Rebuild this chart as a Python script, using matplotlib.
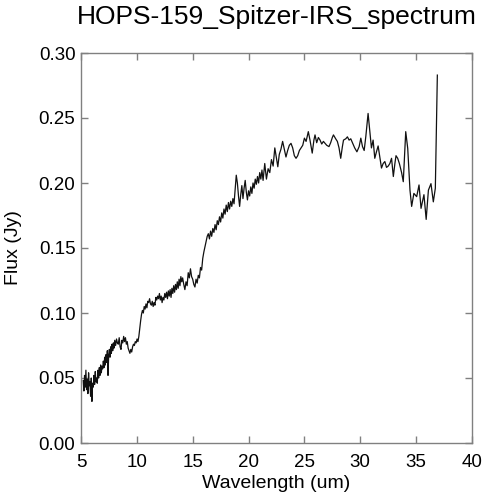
import matplotlib
matplotlib.use('Agg')
import matplotlib.pyplot as plt

plt.rcParams['font.family'] = ['Liberation Sans', 'DejaVu Sans']

title = 'HOPS-159_Spitzer-IRS_spectrum'

# short-wavelength part (SL module)
wave_sl = [5.20, 5.26, 5.32, 5.38, 5.44, 5.50, 5.56, 5.62, 5.68, 5.74,
           5.80, 5.86, 5.92, 5.98, 6.04, 6.10, 6.16, 6.22, 6.28, 6.34,
           6.40, 6.46, 6.52, 6.58, 6.64, 6.70, 6.76, 6.82, 6.88, 6.94,
           7.00, 7.06, 7.12, 7.18, 7.24, 7.30, 7.36, 7.42, 7.48, 7.54,
           7.60, 7.66, 7.72, 7.78, 7.84, 7.90, 7.96, 8.02, 8.10, 8.18,
           8.26, 8.34, 8.42, 8.50, 8.58, 8.66, 8.74, 8.82, 8.90, 8.98,
           9.06, 9.14, 9.22, 9.30, 9.38, 9.46, 9.54, 9.62, 9.70, 9.78,
           9.86, 9.94, 10.02, 10.10, 10.18, 10.26, 10.34, 10.42, 10.50, 10.58,
           10.66, 10.74, 10.82, 10.90, 10.98, 11.06, 11.14, 11.22, 11.30, 11.38,
           11.46, 11.54, 11.62, 11.70, 11.78, 11.86, 11.94, 12.02, 12.10, 12.18,
           12.26, 12.34, 12.42, 12.50, 12.58, 12.66, 12.74, 12.82, 12.90, 12.98,
           13.06, 13.14, 13.22, 13.30, 13.38, 13.46, 13.54, 13.62, 13.70, 13.78,
           13.86, 13.94, 14.02, 14.10]
flux_sl = [0.048, 0.040, 0.052, 0.043, 0.056, 0.041, 0.049, 0.038, 0.054, 0.044,
           0.047, 0.036, 0.050, 0.032, 0.046, 0.043, 0.052, 0.045, 0.055, 0.047,
           0.050, 0.046, 0.056, 0.050, 0.058, 0.052, 0.060, 0.054, 0.059, 0.057,
           0.063, 0.058, 0.066, 0.060, 0.068, 0.062, 0.071, 0.052, 0.068, 0.072,
           0.066, 0.074, 0.069, 0.076, 0.071, 0.077, 0.073, 0.079, 0.075, 0.080,
           0.077, 0.076, 0.081, 0.074, 0.072, 0.079, 0.077, 0.082, 0.078, 0.081,
           0.076, 0.078, 0.073, 0.071, 0.069, 0.072, 0.070, 0.074, 0.076, 0.075,
           0.078, 0.077, 0.080, 0.078, 0.082, 0.088, 0.094, 0.099, 0.102, 0.100,
           0.105, 0.103, 0.107, 0.104, 0.109, 0.108, 0.111, 0.107, 0.106, 0.109,
           0.105, 0.108, 0.106, 0.112, 0.110, 0.113, 0.111, 0.115, 0.110, 0.113,
           0.108, 0.112, 0.110, 0.115, 0.112, 0.116, 0.111, 0.117, 0.113, 0.118,
           0.112, 0.119, 0.115, 0.121, 0.116, 0.122, 0.118, 0.124, 0.119, 0.126,
           0.121, 0.128, 0.124, 0.127]

# long-wavelength part (LL module)
wave_ll = [14.2, 14.3, 14.4, 14.5, 14.6, 14.7, 14.8, 14.9, 15.0, 15.1,
           15.2, 15.3, 15.4, 15.5, 15.6, 15.7, 15.8, 15.9, 16.0, 16.1,
           16.2, 16.3, 16.4, 16.5, 16.6, 16.7, 16.8, 16.9, 17.0, 17.1,
           17.2, 17.3, 17.4, 17.5, 17.6, 17.7, 17.8, 17.9, 18.0, 18.1,
           18.2, 18.3, 18.4, 18.5, 18.6, 18.7, 18.8, 18.9, 19.0, 19.1,
           19.2, 19.3, 19.4, 19.5, 19.6, 19.7, 19.8, 19.9, 20.0, 20.1,
           20.2, 20.3, 20.4, 20.5, 20.6, 20.7, 20.8, 20.9, 21.0, 21.1,
           21.2, 21.3, 21.45, 21.6, 21.75, 21.9, 22.05, 22.2, 22.35, 22.5,
           22.62, 22.75, 22.9, 23.05, 23.2, 23.35, 23.5, 23.65, 23.8, 23.95,
           24.1, 24.25, 24.4, 24.55, 24.7, 24.85, 25.0, 25.15, 25.35, 25.5,
           25.7, 25.85, 25.95, 26.1, 26.25, 26.4, 26.55, 26.7, 26.85, 27.0,
           27.2, 27.35, 27.5, 27.6, 27.8, 27.95, 28.1, 28.25, 28.4, 28.5,
           28.7, 28.85, 29.0, 29.15, 29.3, 29.5, 29.7, 29.9, 30.05, 30.2,
           30.35, 30.5, 30.7, 30.85, 31.0, 31.15, 31.3, 31.45, 31.6, 31.75,
           31.9, 32.05, 32.2, 32.35, 32.5, 32.65, 32.8, 32.96, 33.1, 33.2,
           33.35, 33.5, 33.7, 33.85, 34.07, 34.25, 34.45, 34.6, 34.8, 35.05,
           35.26, 35.44, 35.7, 35.9, 36.1, 36.33, 36.54, 36.72, 36.9]
flux_ll = [0.122, 0.118, 0.124, 0.121, 0.131, 0.127, 0.134, 0.128, 0.126, 0.122,
           0.120, 0.126, 0.123, 0.129, 0.127, 0.135, 0.133, 0.142, 0.147, 0.151,
           0.155, 0.159, 0.161, 0.157, 0.163, 0.159, 0.165, 0.162, 0.168, 0.164,
           0.171, 0.168, 0.174, 0.170, 0.177, 0.173, 0.180, 0.176, 0.183, 0.178,
           0.185, 0.180, 0.186, 0.182, 0.188, 0.184, 0.195, 0.206, 0.200, 0.190,
           0.182, 0.191, 0.198, 0.188, 0.196, 0.202, 0.193, 0.187, 0.194, 0.190,
           0.197, 0.192, 0.200, 0.196, 0.203, 0.199, 0.205, 0.200, 0.208, 0.203,
           0.210, 0.202, 0.215, 0.203, 0.211, 0.208, 0.218, 0.213, 0.227, 0.219,
           0.2125, 0.222, 0.226, 0.232, 0.226, 0.220, 0.225, 0.229, 0.2305, 0.227,
           0.221, 0.219, 0.221, 0.225, 0.227, 0.229, 0.2345, 0.232, 0.2395, 0.233,
           0.223, 0.233, 0.237, 0.231, 0.235, 0.233, 0.230, 0.232, 0.2305, 0.229,
           0.228, 0.231, 0.235, 0.237, 0.234, 0.232, 0.227, 0.219, 0.228, 0.233,
           0.234, 0.2355, 0.233, 0.234, 0.231, 0.227, 0.224, 0.228, 0.2345, 0.228,
           0.225, 0.236, 0.2535, 0.240, 0.227, 0.233, 0.219, 0.224, 0.2285, 0.220,
           0.2115, 0.215, 0.2165, 0.212, 0.213, 0.215, 0.219, 0.205, 0.215, 0.221,
           0.219, 0.215, 0.208, 0.201, 0.2395, 0.2265, 0.1945, 0.182, 0.192, 0.1895,
           0.1985, 0.1805, 0.191, 0.172, 0.1945, 0.1995, 0.1855, 0.196, 0.283]

wave = wave_sl + wave_ll
flux = flux_sl + flux_ll

xticks = [5, 10, 15, 20, 25, 30, 35, 40]
yticks = [0.00, 0.05, 0.10, 0.15, 0.20, 0.25, 0.30]

fig = plt.figure(figsize=(4.92, 5.0), dpi=100)
ax = fig.add_axes([0.1646, 0.114, 0.7947, 0.780])

ax.plot(wave, flux, color='#111111', linewidth=0.9)

ax.set_xlim(5, 40)
ax.set_ylim(0, 0.30)
ax.set_xticks(xticks)
ax.set_yticks(yticks)
ax.set_xticklabels([str(t) for t in xticks])
ax.set_yticklabels(['%.2f' % t for t in yticks])

for s in ax.spines.values():
    s.set_color('#808080')
    s.set_linewidth(1.0)
ax.tick_params(direction='in', length=5, width=1.0, color='#808080',
               top=True, right=True, labelsize=13.5)
ax.tick_params(axis='x', pad=8)
ax.tick_params(axis='y', pad=4)

ax.set_xlabel('Wavelength (um)', fontsize=14, labelpad=3)
ax.set_ylabel('Flux (Jy)', fontsize=14, labelpad=12)
ax.set_title(title, fontsize=19, pad=21)

plt.savefig('out.png', dpi=100)
plt.close()
